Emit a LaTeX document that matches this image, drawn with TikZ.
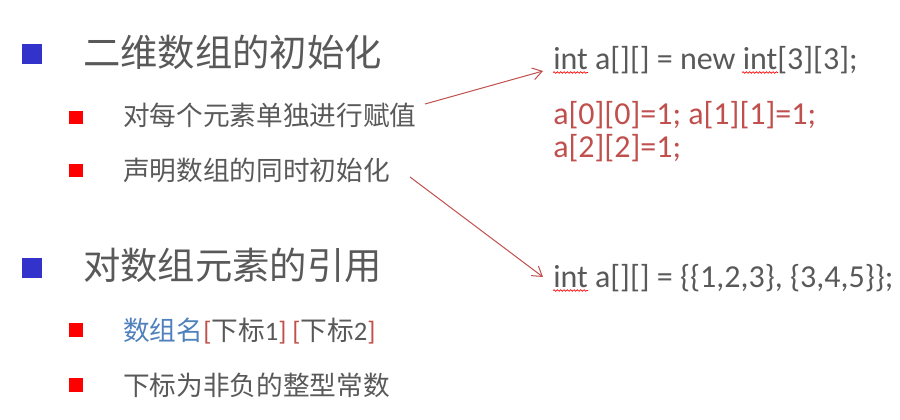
\documentclass[tikz,border=0pt]{standalone}
\usepackage{fontspec}
\setmainfont{Carlito}
\newfontfamily\cjk{Noto Sans CJK SC}
\usetikzlibrary{arrows.meta,decorations.pathmorphing}
\definecolor{txt}{HTML}{595959}
\definecolor{bblue}{HTML}{3333CC}
\definecolor{dred}{HTML}{C0504D}
\definecolor{lblue}{HTML}{4F81BD}
\begin{document}
\begin{tikzpicture}[x=0.75pt,y=-0.75pt,
 title/.style={anchor=base west,inner sep=0,text=txt,font=\cjk\fontsize{28}{34}\selectfont},
 item/.style={anchor=base west,inner sep=0,text=txt,font=\cjk\fontsize{20}{24}\selectfont},
 code/.style={anchor=base west,inner sep=0,text=txt,font=\fontsize{24}{29}\selectfont},
 bigbullet/.style={fill=bblue,inner sep=0,minimum size=15pt},
 smallbullet/.style={fill=red,inner sep=0,minimum size=10pt},
 link/.style={dred,line width=0.75pt,-{Straight Barb[length=7pt,width=9pt]}},
 squig/.style={red,line width=0.5pt,decorate,decoration={snake,amplitude=0.6pt,segment length=2.5pt}}]
\useasboundingbox (0,0) rectangle (900,420);
\fill[white] (0,0) rectangle (900,420);
% left column
\node[bigbullet] (b1) at (32,54) {};
\node[title] (t1) at (83,67) {二维数组的初始化};
\node[smallbullet] (b11) at (76,117.5) {};
\node[item] (s1) at (123,126) {对每个元素单独进行赋值};
\node[smallbullet] (b12) at (76,170.5) {};
\node[item] (s2) at (123,181) {声明数组的同时初始化};
\node[bigbullet] (b2) at (32,268) {};
\node[title] (t2) at (83,280) {对数组元素的引用};
\node[smallbullet] (b21) at (76,330) {};
\node[item] (s3) at (123,340) {\textcolor{lblue}{数组名}\textcolor{dred}{\rmfamily [}下标{\rmfamily 1}\textcolor{dred}{\rmfamily ]} \textcolor{dred}{\rmfamily [}下标{\rmfamily 2}\textcolor{dred}{\rmfamily ]}};
\node[smallbullet] (b22) at (76,385) {};
\node[item] (s4) at (123,395) {下标为非负的整型常数};
% right column
\node[code] (c1) at (553,70) {int a[][] = new int[3][3];};
\node[code,text=dred] (c2) at (553,125) {a[0][0]=1; a[1][1]=1;};
\node[code,text=dred] (c3) at (553,158) {a[2][2]=1;};
\node[code] (c4) at (553,288) {int a[][] = \{\{1,2,3\}, \{3,4,5\}\};};
% spell-check squiggles
\draw[squig] (553,72.5) -- (588,72.5);
\draw[squig] (742,72.5) -- (778,72.5);
\draw[squig] (553,290.5) -- (588,290.5);
% arrows
\coordinate (a1s) at (425,104);
\coordinate (a1e) at (543,71);
\coordinate (a2s) at (410,177);
\coordinate (a2e) at (543,277);
\draw[link] (a1s) -- (a1e);
\draw[link] (a2s) -- (a2e);
\end{tikzpicture}
\end{document}
